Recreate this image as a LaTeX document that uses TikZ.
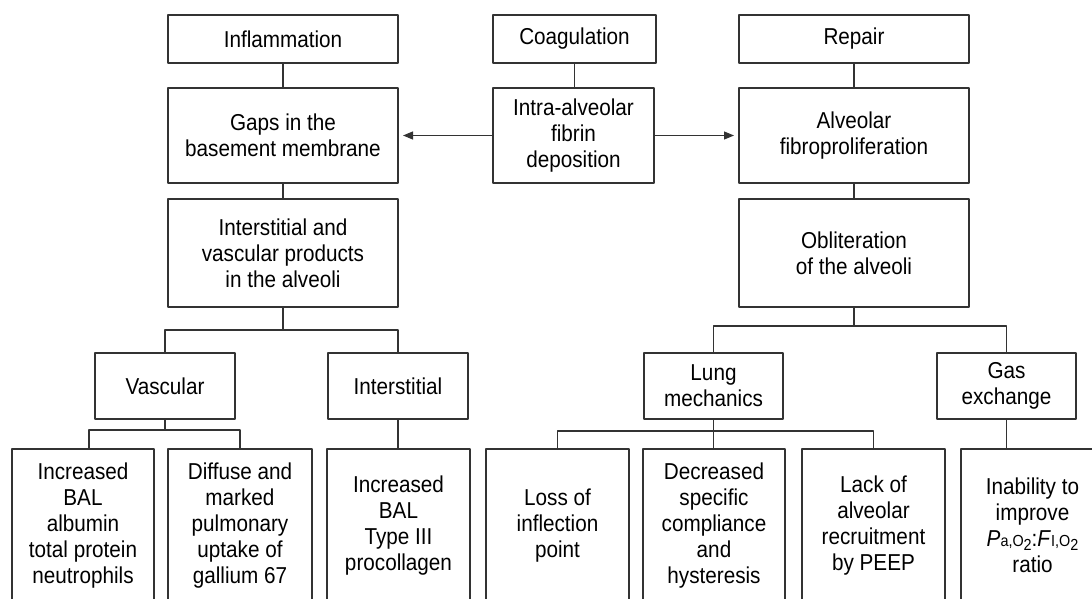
\documentclass[tikz,border=0pt]{standalone}
\usepackage{fontspec}
\setmainfont{Liberation Sans}[FakeStretch=0.9]
\usepackage{tikz}
\usetikzlibrary{arrows.meta}
\newcommand{\subtxt}[1]{{\fontsize{16}{16}\selectfont #1}}

\begin{document}
\begin{tikzpicture}[x=1pt,y=-1pt,line join=round,
  box/.style={draw=black!80,line width=1.1pt,align=center,inner sep=0pt,outer sep=0pt,font=\fontsize{23}{26}\selectfont},
  link/.style={draw=black!80,line width=1.1pt},
  arr/.style={link,-{Triangle[length=10pt,width=8pt]},shorten >=5pt}]
\clip (0,0) rectangle (1092,599);
% top row
\node[box,minimum width=230,minimum height=48] (infl) at (283,39) {Inflammation};
\node[box,minimum width=163,minimum height=48] (coag) at (574.5,39) {Coagulation};
\node[box,minimum width=230,minimum height=48] (rep) at (854,39) {Repair};
% second row
\node[box,minimum width=230,minimum height=95] (gaps) at (283,135.5) {Gaps in the\\ basement membrane};
\node[box,minimum width=161,minimum height=95] (fib) at (573.5,135.5) {Intra-alveolar\\ fibrin\\ deposition};
\node[box,minimum width=230,minimum height=95] (fibro) at (854,135.5) {Alveolar\\ fibroproliferation};
% third row
\node[box,minimum width=230,minimum height=108] (prod) at (283,253) {Interstitial and\\ vascular products\\ in the alveoli};
\node[box,minimum width=230,minimum height=108] (oblit) at (854,253) {Obliteration\\ of the alveoli};
% fourth row
\node[box,minimum width=140,minimum height=66] (vasc) at (165,386) {Vascular};
\node[box,minimum width=140,minimum height=66] (inter) at (398,386) {Interstitial};
\node[box,minimum width=139,minimum height=66] (lung) at (713.5,386) {Lung\\ mechanics};
\node[box,minimum width=139,minimum height=66] (gas) at (1006.5,386) {Gas\\ exchange};
% bottom row (cut by the page edge)
\node[box,minimum width=142,minimum height=153] (bal) at (83,525.5) {Increased\\ BAL\\ albumin\\ total protein\\ neutrophils};
\node[box,minimum width=144,minimum height=153] (gall) at (240,525.5) {Diffuse and\\ marked\\ pulmonary\\ uptake of\\ gallium 67};
\node[box,minimum width=143,minimum height=153] (coll) at (398.5,525.5) {Increased\\ BAL\\ Type III\\ procollagen};
\node[box,minimum width=143,minimum height=153] (loss) at (557.5,525.5) {Loss of\\ inflection\\ point};
\node[box,minimum width=142,minimum height=153] (comp) at (714,525.5) {Decreased\\ specific\\ compliance\\ and\\ hysteresis};
\node[box,minimum width=143,minimum height=153] (peep) at (873.5,525.5) {Lack of\\ alveolar\\ recruitment\\ by PEEP};
\node[box,minimum width=143,minimum height=153] (inab) at (1032.5,525.5) {Inability to\\ improve\\ \textit{P}\subtxt{a,O}\raisebox{-4pt}{\subtxt{2}}:\textit{F}\subtxt{I,O}\raisebox{-4pt}{\subtxt{2}}\\ ratio};
% junctions
\coordinate (pj) at (283,330);
\coordinate (oj) at (854,326);
\coordinate (vj) at (165,430);
\coordinate (lj) at (713.5,431);
% connectors
\draw[link] (infl) -- (gaps);
\draw[link] (coag.south) -- (coag.south |- fib.north);
\draw[link] (rep) -- (fibro);
\draw[arr] (fib.west) -- (gaps.east);
\draw[arr] (fib.east) -- (fibro.west);
\draw[link] (gaps) -- (prod);
\draw[link] (fibro) -- (oblit);
\draw[link] (prod.south) -- (pj);
\draw[link] (vasc.north) |- (pj) -| (inter.north);
\draw[link] (oblit.south) -- (oj);
\draw[link] (lung.north) |- (oj) -| (gas.north);
\draw[link] (vasc.south) -- (vj);
\draw[link] ([xshift=6pt]bal.north) |- (vj) -| (gall.north);
\draw[link] (inter.south) -- (inter.south |- coll.north);
\draw[link] (lung.south) -- (lj) -- (lj |- comp.north);
\draw[link] (loss.north) |- (lj) -| (peep.north);
\draw[link] (gas.south) -- (gas.south |- inab.north);
\end{tikzpicture}
\end{document}
